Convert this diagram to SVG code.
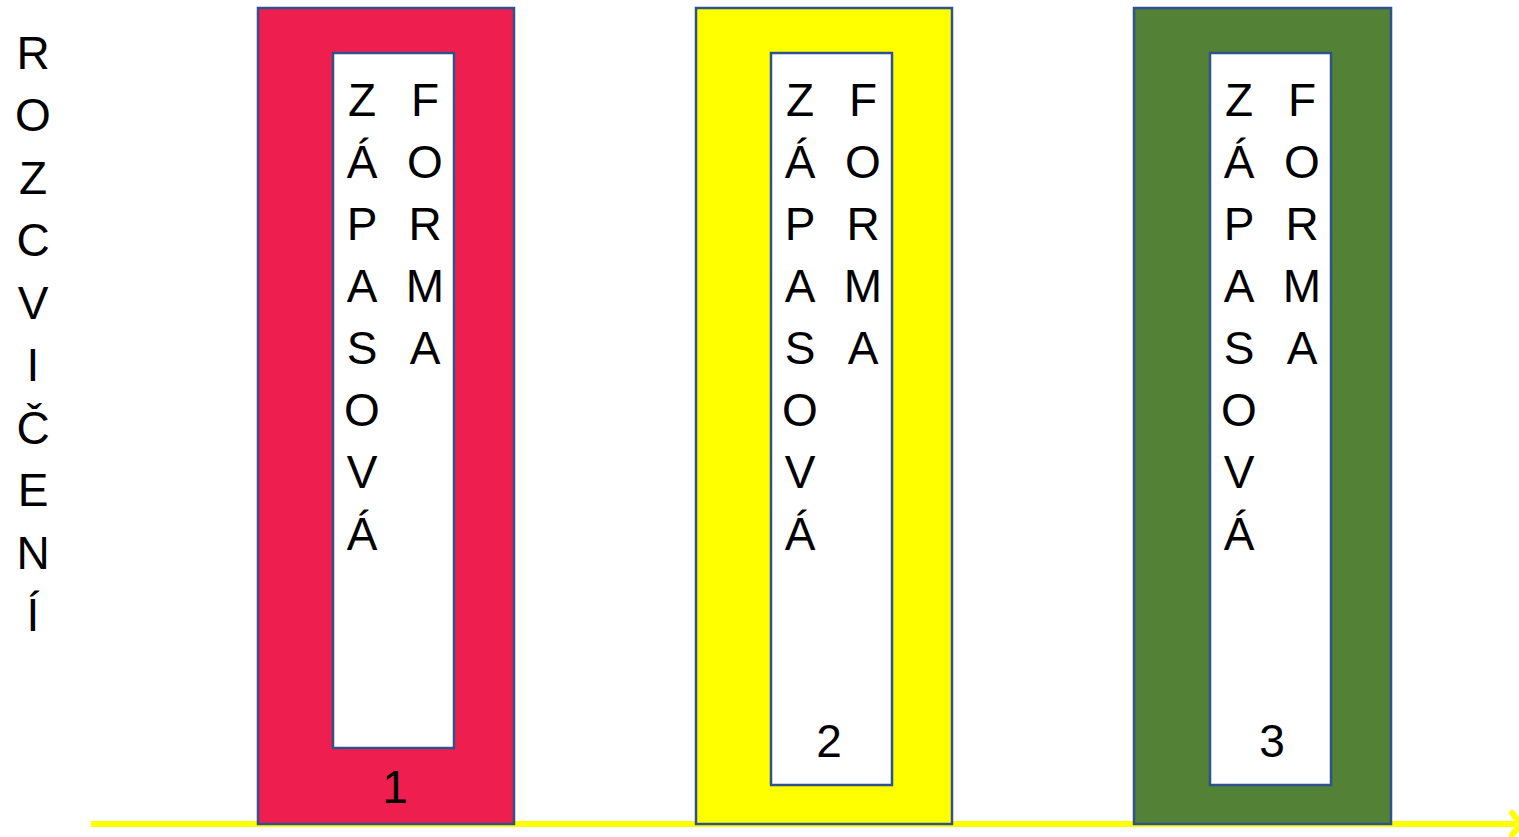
<svg xmlns="http://www.w3.org/2000/svg" width="1519" height="837" viewBox="0 0 1519 837">
<style>
.outer{stroke:#2F528F;stroke-width:2.5}
.inner{fill:#FFFFFF;stroke:#2F528F;stroke-width:2.5}
text{font-family:"Liberation Sans",Arial,sans-serif;font-size:46px;fill:#000;text-anchor:middle}
.conn{stroke:#FFFF00;stroke-width:6;fill:none}
</style>
<rect width="1519" height="837" fill="#FFFFFF"/>
<g id="title">
<text x="33" y="69">R</text>
<text x="33" y="131">O</text>
<text x="33" y="194">Z</text>
<text x="33" y="256">C</text>
<text x="33" y="319">V</text>
<text x="33" y="381">I</text>
<text x="33" y="444">Č</text>
<text x="33" y="506">E</text>
<text x="33" y="569">N</text>
<text x="33" y="631">Í</text>
</g>
<g id="connectors">
<line class="conn" x1="91" y1="824" x2="1516" y2="824"/>
<path class="conn" d="M1512 813 L1521 824 L1512 835" stroke-linecap="round"/>
</g>
<g id="box1">
<rect class="outer" x="258" y="8" width="256" height="816" fill="#EE1F4F"/>
<rect class="inner" x="333" y="53" width="121" height="695"/>
<text x="362" y="116">Z</text><text x="362" y="178">Á</text><text x="362" y="240">P</text><text x="362" y="302">A</text><text x="362" y="364">S</text><text x="362" y="426">O</text><text x="362" y="488">V</text><text x="362" y="550">Á</text>
<text x="425" y="116">F</text><text x="425" y="178">O</text><text x="425" y="240">R</text><text x="425" y="302">M</text><text x="425" y="364">A</text>
<text x="395" y="803">1</text>
</g>
<g id="box2">
<rect class="outer" x="696" y="8" width="256" height="816" fill="#FFFF00"/>
<rect class="inner" x="771" y="53" width="121" height="732"/>
<text x="800" y="116">Z</text><text x="800" y="178">Á</text><text x="800" y="240">P</text><text x="800" y="302">A</text><text x="800" y="364">S</text><text x="800" y="426">O</text><text x="800" y="488">V</text><text x="800" y="550">Á</text>
<text x="863" y="116">F</text><text x="863" y="178">O</text><text x="863" y="240">R</text><text x="863" y="302">M</text><text x="863" y="364">A</text>
<text x="829" y="757">2</text>
</g>
<g id="box3">
<rect class="outer" x="1134" y="8" width="257" height="816" fill="#538135"/>
<rect class="inner" x="1210" y="53" width="121" height="732"/>
<text x="1239" y="116">Z</text><text x="1239" y="178">Á</text><text x="1239" y="240">P</text><text x="1239" y="302">A</text><text x="1239" y="364">S</text><text x="1239" y="426">O</text><text x="1239" y="488">V</text><text x="1239" y="550">Á</text>
<text x="1302" y="116">F</text><text x="1302" y="178">O</text><text x="1302" y="240">R</text><text x="1302" y="302">M</text><text x="1302" y="364">A</text>
<text x="1272" y="757">3</text>
</g>
</svg>
